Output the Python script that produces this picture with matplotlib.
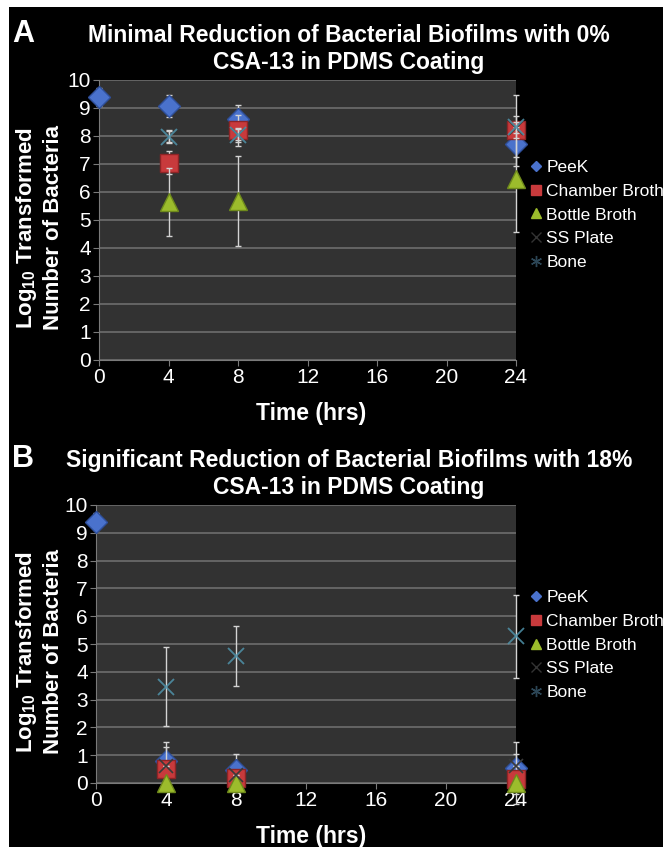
"""Two-panel biofilm reduction chart (0% vs 18% CSA-13 in PDMS coating)."""
import numpy as np
import matplotlib
matplotlib.use("Agg")
import matplotlib.pyplot as plt  # noqa: E402
from matplotlib.lines import Line2D  # noqa: E402
from matplotlib.patches import Rectangle  # noqa: E402

nan = np.nan
W, H = 668, 851

times = [0, 4, 8, 24]
xticks = [0, 4, 8, 12, 16, 20, 24]
series_names = ["PeeK", "Chamber Broth", "Bottle Broth", "SS Plate", "Bone"]

# panel A: 0% CSA-13
peek_a = [9.40, 9.07, 8.62, 7.70]
peek_a_err = [0.32, 0.40, 0.48, 0.44]
chamber_a = [nan, 7.05, 8.20, 8.20]
chamber_a_err = [nan, 0.40, 0.56, 1.26]
bottle_a = [nan, 5.65, 5.67, 6.45]
bottle_a_err = [nan, 1.22, 1.60, 1.88]
ss_a = [nan, 8.00, 8.05, 8.30]
ss_a_err = [nan, 0.20, 0.20, 0.20]
bone_a = [nan, 7.96, 8.04, 8.33]
bone_a_err = [nan, 0.22, 0.25, 0.40]

# panel B: 18% CSA-13
peek_b = [9.40, 0.80, 0.47, 0.55]
peek_b_err = [0.30, 0.69, 0.57, 0.94]
chamber_b = [nan, 0.50, 0.17, 0.15]
chamber_b_err = [nan, 0.79, 0.30, 0.90]
bottle_b = [nan, 0.0, 0.0, 0.0]
bottle_b_err = [nan, 0.0, 0.0, 0.0]
ss_b = [nan, 0.60, 0.30, 0.60]
ss_b_err = [nan, 0.0, 0.0, 0.0]
bone_b = [nan, 3.47, 4.57, 5.27]
bone_b_err = [nan, 1.42, 1.08, 1.50]

FONT = ["Liberation Sans", "DejaVu Sans"]
plt.rcParams["font.family"] = FONT
plt.rcParams["mathtext.default"] = "regular"

STYLES = [
    dict(marker="D", color="#4a72cc", ms=11, mec="#2f4f9a"),
    dict(marker="s", color="#c83a3c", ms=12.5, mec="#8e2426"),
    dict(marker="^", color="#9cbc2c", ms=13, mec="#6f8a1c"),
    dict(marker="x", color="#3a3a3a", ms=10, mec="#3a3a3a", mew=1.2),
    dict(marker="x", color="#4f93ab", ms=12, mec="#4f93ab", mew=1.3, alpha=0.85),
]
LEG_STYLES = [
    dict(marker="D", color="#4a72cc", ms=5.5),
    dict(marker="s", color="#c83a3c", ms=6.5),
    dict(marker="^", color="#9cbc2c", ms=7.5),
    dict(marker="x", color="#333333", ms=7, mew=1),
    dict(marker=(6, 2, 0), color="#2c4656", ms=8, mew=1),
]


def fx(px):
    return px / W


def fy(py):
    return 1 - py / H


def panel(fig, box, letter, title, data, leg_y):
    left, top, right, bottom = box
    ax = fig.add_axes([fx(left), fy(bottom), (right - left) / W, (bottom - top) / H])
    ax.set_facecolor("#323232")
    for i, ((vals, errs), st) in enumerate(zip(data, STYLES)):
        ax.errorbar(times, vals, yerr=errs, fmt="none", ecolor="#d4d4d4",
                    elinewidth=1, capsize=2.5, capthick=1, zorder=2 + 2 * i,
                    clip_on=False)
        ax.plot(times, vals, ls="none", clip_on=False, zorder=3 + 2 * i, **st)
    ax.set_xlim(0, 24)
    ax.set_ylim(0, 10)
    ax.set_xticks(xticks)
    ax.set_yticks(range(0, 11))
    ax.yaxis.grid(True, color="#727272", lw=1.1)
    ax.set_axisbelow(True)
    for s in ["top", "right"]:
        ax.spines[s].set_visible(False)
    for s in ["left", "bottom"]:
        ax.spines[s].set_color("#7a7a7a")
    ax.tick_params(colors="#7a7a7a", labelcolor="white", labelsize=15,
                   length=4, direction="out", pad=2)
    handles = [Line2D([], [], ls="none", **st) for st in LEG_STYLES]
    ax.legend(handles, series_names, loc="center left", frameon=False,
              bbox_to_anchor=(fx(522), fy(leg_y)), bbox_transform=fig.transFigure,
              fontsize=12.5, labelcolor="white", handlelength=0.6,
              handletextpad=0.3, labelspacing=0.5, borderpad=0)

    fig.text(fx(349), fy(top - 31), title, ha="center", va="center", color="white",
             fontsize=16.5, fontweight="bold", linespacing=1.2)
    fig.text(fx(12), fy(top - 46), letter, ha="left", va="center", color="white",
             fontsize=22, fontweight="bold")
    fig.text(fx(39), fy((top + bottom) / 2 + 8),
             "Log$_{10}$ Transformed\nNumber of Bacteria", rotation=90,
             ha="center", va="center", multialignment="center", color="white",
             fontsize=16, fontweight="bold", linespacing=1.2)
    fig.text(fx(311), fy(bottom + 53), "Time (hrs)", ha="center", va="center",
             color="white", fontsize=16.5, fontweight="bold")
    return ax


def main():
    fig = plt.figure(figsize=(W / 100, H / 100), dpi=100)
    fig.patch.set_facecolor("white")
    fig.patches.append(Rectangle((fx(9), fy(847)), (663 - 9) / W, (847 - 7) / H,
                                 transform=fig.transFigure, facecolor="black",
                                 edgecolor="none", zorder=-10))
    data_a = [(peek_a, peek_a_err), (chamber_a, chamber_a_err),
              (bottle_a, bottle_a_err), (ss_a, ss_a_err), (bone_a, bone_a_err)]
    data_b = [(peek_b, peek_b_err), (chamber_b, chamber_b_err),
              (bottle_b, bottle_b_err), (ss_b, ss_b_err), (bone_b, bone_b_err)]
    panel(fig, (99, 80, 516, 360), "A",
          "Minimal Reduction of Bacterial Biofilms with 0%\nCSA-13 in PDMS Coating",
          data_a, 215)
    panel(fig, (96, 505, 516, 783), "B",
          "Significant Reduction of Bacterial Biofilms with 18%\nCSA-13 in PDMS Coating",
          data_b, 645)
    fig.savefig("out.png", dpi=100, facecolor="white")
    plt.close(fig)


if __name__ == "__main__":
    main()
